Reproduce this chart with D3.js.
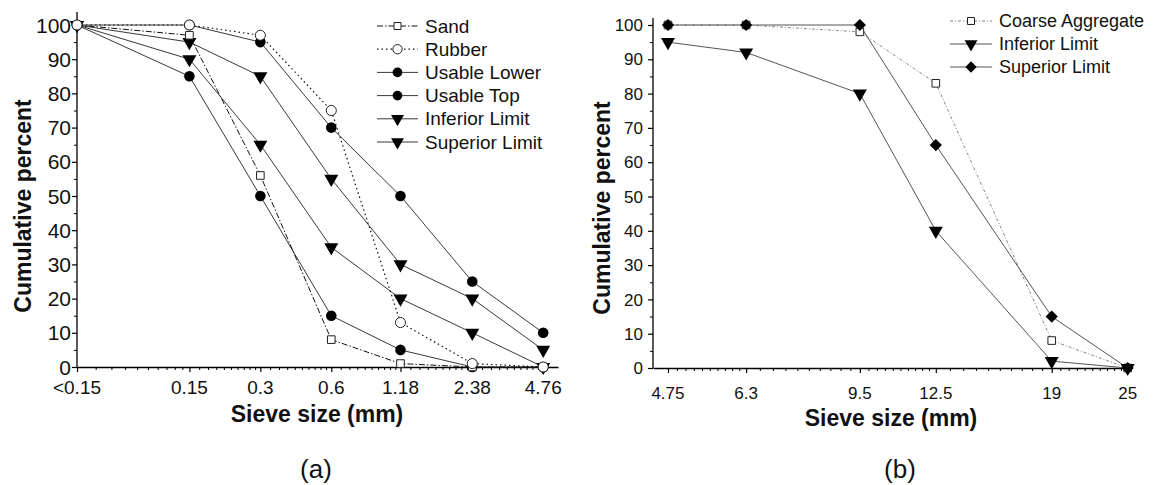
<!DOCTYPE html>
<html>
<head>
<meta charset="utf-8">
<script src="https://cdn.jsdelivr.net/npm/d3@7"></script>
<style>
  body { margin: 0; background: #fff; }
  svg text { font-family: "Liberation Sans", Arial, sans-serif; fill: #111; }
</style>
</head>
<body>
<svg id="chart" width="1155" height="485"></svg>
<script>
// panel (a): fine aggregate
const sieveA = [0.05, 0.15, 0.3, 0.6, 1.18, 2.38, 4.76];
const sieveLabelsA = ["<0.15", "0.15", "0.3", "0.6", "1.18", "2.38", "4.76"];
const sand = [100, 97, 56, 8, 1, 0, 0];
const rubber = [100, 100, 97, 75, 13, 1, 0];
const usableLower = [100, 85, 50, 15, 5, 0, 0];
const usableTop = [100, 100, 95, 70, 50, 25, 10];
const inferiorA = [100, 90, 65, 35, 20, 10, 0];
const superiorA = [100, 95, 85, 55, 30, 20, 5];

// panel (b): coarse aggregate
const sieveB = [4.75, 6.3, 9.5, 12.5, 19, 25];
const sieveLabelsB = ["4.75", "6.3", "9.5", "12.5", "19", "25"];
const coarse = [100, 100, 98, 83, 8, 0];
const inferiorB = [95, 92, 80, 40, 2, 0];
const superiorB = [100, 100, 100, 65, 15, 0];

const yMajor = d3.range(0, 101, 10);
const yMinor = d3.range(5, 101, 10);

var svg = d3.select("#chart");

// 9 minor ticks between each pair of labelled sieves
function minorTicks(vals) {
  let out = [];
  for (let i = 0; i < vals.length - 1; i++) {
    for (let k = 1; k < 10; k++) out.push(vals[i] + (vals[i + 1] - vals[i]) * k / 10);
  }
  return out;
}

function marker(sel, type, size) {
  if (type == "triangle") {
    sel.attr("d", d3.symbol(d3.symbolTriangle, size)).attr("fill", "#000").attr("stroke", "none");
    return "rotate(180)";
  }
  if (type == "diamond") {
    sel.attr("d", d3.symbol(d3.symbolSquare, size)).attr("fill", "#000").attr("stroke", "none");
    return "rotate(45)";
  }
  if (type == "square") {
    sel.attr("d", d3.symbol(d3.symbolSquare, size)).attr("fill", "#fff").attr("stroke", "#222").attr("stroke-width", 1);
    return "";
  }
  if (type == "opencircle") {
    sel.attr("d", d3.symbol(d3.symbolCircle, size)).attr("fill", "#fff").attr("stroke", "#222").attr("stroke-width", 1);
    return "";
  }
  sel.attr("d", d3.symbol(d3.symbolCircle, size)).attr("fill", "#000").attr("stroke", "none");
  return "";
}

function drawPanel(input) {
  const { xVals, xLabels, series, order, xDomain, xRange, yRange, tickFont, yLabelX, xLabelY,
          yTitleX, yTitleY, xTitleX, xTitleY, capX, cap, legend } = input;

  var x = d3.scaleLog().domain(xDomain).range(xRange);
  var y = d3.scaleLinear().domain([0, 100]).range(yRange);
  var g = svg.append("g");

  // x axis
  var xAxis = g.append("g")
      .attr("transform", "translate(0," + yRange[0] + ")")
      .call(d3.axisBottom(x).tickValues(xVals).tickSize(5).tickSizeOuter(0).tickFormat(""));
  xAxis.select(".domain").attr("stroke", "#000").attr("stroke-width", 1.3);
  xAxis.selectAll(".tick line").attr("stroke", "#000").attr("stroke-width", 1.2);
  g.append("g")
      .attr("transform", "translate(0," + yRange[0] + ")")
      .call(d3.axisBottom(x).tickValues(minorTicks(xVals)).tickSize(3).tickSizeOuter(0).tickFormat(""))
      .call(a => a.select(".domain").remove())
      .selectAll(".tick line").attr("stroke", "#000");

  g.selectAll(".xlab").data(xVals).enter().append("text")
      .attr("x", d => x(d))
      .attr("y", xLabelY)
      .attr("text-anchor", "middle")
      .style("font-size", tickFont.x + "px")
      .text((d, i) => xLabels[i]);

  // y axis
  var yAxis = g.append("g")
      .attr("transform", "translate(" + xRange[0] + ",0)")
      .call(d3.axisLeft(y).tickValues(yMajor).tickSize(5).tickSizeOuter(0).tickFormat(""));
  yAxis.select(".domain").attr("d", "M0," + yRange[0] + "V" + input.yTop).attr("stroke", "#000").attr("stroke-width", 1.3);
  yAxis.selectAll(".tick line").attr("stroke", "#000").attr("stroke-width", 1.2);
  g.append("g")
      .attr("transform", "translate(" + xRange[0] + ",0)")
      .call(d3.axisLeft(y).tickValues(yMinor).tickSize(3).tickSizeOuter(0).tickFormat(""))
      .call(a => a.select(".domain").remove())
      .selectAll(".tick line").attr("stroke", "#000");

  g.selectAll(".ylab").data(yMajor).enter().append("text")
      .attr("x", yLabelX)
      .attr("y", d => y(d))
      .attr("dy", "0.36em")
      .attr("text-anchor", "end")
      .style("font-size", tickFont.y + "px")
      .text(d => d);

  // titles
  g.append("text")
      .attr("transform", "translate(" + yTitleX + "," + yTitleY + ") rotate(-90)")
      .attr("text-anchor", "middle")
      .style("font-size", "23px").style("font-weight", "bold")
      .text("Cumulative percent");
  g.append("text")
      .attr("x", xTitleX).attr("y", xTitleY)
      .attr("text-anchor", "middle")
      .style("font-size", "23px").style("font-weight", "bold")
      .text("Sieve size (mm)");
  g.append("text")
      .attr("x", capX).attr("y", 478)
      .attr("text-anchor", "middle")
      .style("font-size", "26px")
      .text(cap);

  // lines, then markers
  var line = d3.line()
      .x((d, i) => x(xVals[i]))
      .y(d => y(d));

  order.forEach(function(k) {
    const s = series[k];
    g.append("path")
        .datum(s.values)
        .attr("fill", "none")
        .attr("stroke", s.color)
        .attr("stroke-width", s.width)
        .attr("stroke-dasharray", s.dash)
        .attr("d", line);
  });
  order.forEach(function(k) {
    const s = series[k];
    g.selectAll(".m" + k).data(s.values).enter().append("path")
        .each(function(d, i) {
          const rot = marker(d3.select(this), s.marker, s.size);
          d3.select(this).attr("transform", "translate(" + x(xVals[i]) + "," + y(d) + ") " + rot);
        });
  });

  // legend
  var lg = g.append("g");
  series.forEach(function(s, i) {
    const ly = legend.y0 + i * legend.dy;
    lg.append("line")
        .attr("x1", legend.x0).attr("x2", legend.x1)
        .attr("y1", ly).attr("y2", ly)
        .attr("stroke", s.color)
        .attr("stroke-width", s.width)
        .attr("stroke-dasharray", s.dash);
    const mk = lg.append("path");
    const rot = marker(mk, s.marker, s.size * 0.85);
    mk.attr("transform", "translate(" + (legend.x0 + legend.x1) / 2 + "," + ly + ") " + rot);
    lg.append("text")
        .attr("x", legend.x1 + 7)
        .attr("y", ly)
        .attr("dy", "0.35em")
        .style("font-size", legend.font + "px")
        .text(s.name);
  });
}

drawPanel({
  xVals: sieveA,
  xLabels: sieveLabelsA,
  series: [
    { name: "Sand", values: sand, marker: "square", size: 58, color: "#111", width: 1, dash: "6,2,1.5,2" },
    { name: "Rubber", values: rubber, marker: "opencircle", size: 80, color: "#111", width: 1.2, dash: "1.5,3" },
    { name: "Usable Lower", values: usableLower, marker: "circle", size: 88, color: "#222", width: 0.9, dash: null },
    { name: "Usable Top", values: usableTop, marker: "circle", size: 88, color: "#222", width: 0.9, dash: null },
    { name: "Inferior Limit", values: inferiorA, marker: "triangle", size: 85, color: "#222", width: 0.9, dash: null },
    { name: "Superior Limit", values: superiorA, marker: "triangle", size: 85, color: "#222", width: 0.9, dash: null }
  ],
  order: [2, 3, 4, 5, 0, 1],
  xDomain: [0.05, 5.5],
  xRange: [77, 558],
  yRange: [367, 25],
  yTop: 12,
  tickFont: { x: 19, y: 21 },
  yLabelX: 71,
  xLabelY: 394,
  yTitleX: 31, yTitleY: 206,
  xTitleX: 317, xTitleY: 422,
  capX: 316, cap: "(a)",
  legend: { x0: 377, x1: 418, y0: 26, dy: 23.2, font: 19 }
});

drawPanel({
  xVals: sieveB,
  xLabels: sieveLabelsB,
  series: [
    { name: "Coarse Aggregate", values: coarse, marker: "square", size: 58, color: "#777", width: 0.9, dash: "3,2,1,2" },
    { name: "Inferior Limit", values: inferiorB, marker: "triangle", size: 85, color: "#555", width: 1, dash: null },
    { name: "Superior Limit", values: superiorB, marker: "diamond", size: 75, color: "#555", width: 1, dash: null }
  ],
  order: [0, 1, 2],
  xDomain: [4.5, 25.3],
  xRange: [653, 1131],
  yRange: [368, 25],
  yTop: 18,
  tickFont: { x: 17, y: 17 },
  yLabelX: 643,
  xLabelY: 399,
  yTitleX: 610, yTitleY: 208,
  xTitleX: 891, xTitleY: 426,
  capX: 900, cap: "(b)",
  legend: { x0: 950, x1: 992, y0: 21, dy: 23, font: 18 }
});
</script>
</body>
</html>
